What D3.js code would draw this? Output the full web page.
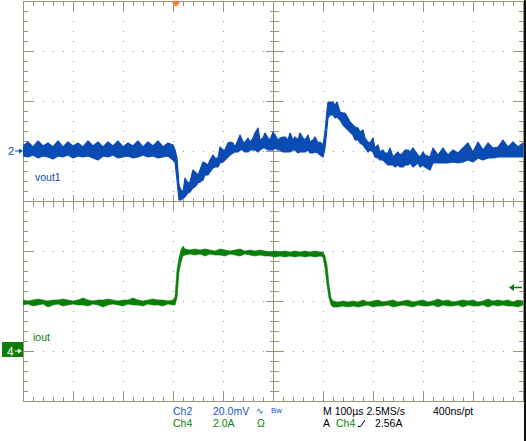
<!DOCTYPE html>
<html><head><meta charset="utf-8">
<script src="https://cdn.jsdelivr.net/npm/d3@7"></script>
<style>html,body{margin:0;padding:0;background:#fff;}svg{display:block;font-family:"Liberation Sans",Arial,sans-serif;}</style>
</head><body><svg id="c" width="526" height="441"></svg>
<script>
// ---- Ch2 (vout1), mV relative to channel marker; time in µs from left edge
const ch2Time = [0,10,20,30,40,50,60,70,80,90,100,110,120,130,140,150,160,170,180,190,200,210,220,230,240,250,260,270,280,290,300,
304,308,312,316,320,324,330,334,340,344,350,354,360,364,370,374,380,384,390,394,400,404,410,414,420,424,430,434,440,444,450,454,460,464,470,474,480,484,490,494,500,504,510,514,520,524,530,534,540,544,550,554,560,564,570,574,580,584,590,594,600,
604,608,610,614,620,624,628,634,640,644,650,654,660,664,670,674,680,684,690,694,700,704,710,714,720,724,730,734,740,744,750,754,760,764,770,774,780,790,794,800,804,814,820,830,840,850,860,870,880,890,900,910,920,930,940,950,960,970,980,990,1000];
const ch2Hi = [2.0,3.6,1.6,4.0,2.0,3.2,1.6,4.0,1.6,3.6,2.0,3.2,1.6,4.0,2.0,3.6,1.6,3.6,2.0,4.0,1.6,3.2,2.0,4.0,1.6,3.6,2.0,4.0,1.6,3.2,2.4,
0.4,-2.8,-13.6,-15.6,-16.4,-10.8,-12.8,-12.4,-7.6,-8.4,-9.6,-7.6,-4.4,-4.8,-5.6,-3.6,-1.6,-2.8,-2.8,1.6,0.4,0.4,3.2,3.6,3.2,1.6,4.4,6.4,3.6,3.6,5.2,3.6,5.2,7.2,9.2,4.4,5.2,7.2,5.2,4.4,7.6,6.4,4.4,5.2,5.6,5.6,4.4,7.2,4.4,5.6,4.4,7.2,5.2,4.4,6.4,3.6,4.4,5.6,3.2,3.6,2.4,
7.6,16.4,19.6,19.6,19.6,18.4,19.6,15.6,15.2,15.2,13.2,11.6,10.4,9.6,9.2,7.6,8.4,5.2,3.6,3.2,5.2,1.2,2.4,-0.4,0.4,-0.8,-0.8,1.2,-2.4,-1.6,-0.4,-1.6,-0.8,0.4,0.4,-0.4,1.2,-1.6,-2.4,-0.4,-1.6,-2.4,1.2,-1.6,1.2,-1.6,0.4,-0.8,1.2,3.2,-0.4,3.6,0.4,3.2,1.2,1.6,4.4,1.6,3.6,1.6,3.2];
const ch2Lo = [-2.0,-2.4,-1.6,-2.8,-2.0,-2.4,-3.2,-2.0,-2.4,-1.6,-2.8,-2.0,-2.4,-2.0,-2.8,-3.6,-2.0,-2.4,-1.6,-2.8,-2.4,-2.0,-2.8,-2.4,-1.6,-2.4,-2.0,-2.8,-2.4,-2.0,-3.6,
-4.4,-11.6,-19.6,-19.6,-18.8,-18.4,-16.8,-16.4,-14.8,-14.4,-12.8,-12.4,-11.6,-9.6,-9.6,-8.4,-6.8,-6.4,-6.4,-4.8,-4.4,-3.6,-2.4,-1.6,-0.8,-0.4,-0.4,0.4,0.4,-0.4,-0.4,0.4,0.4,0.4,-0.4,0.4,1.2,1.2,0.4,0.4,0.4,1.2,0.4,0.4,-0.4,-0.4,-0.4,-0.4,0.4,0.4,-0.8,-0.4,-0.4,-0.4,0.4,-0.8,-0.8,-0.4,-0.8,-1.6,-2.4,
1.2,9.2,13.2,14.4,14.4,13.2,13.6,12.4,10.4,9.6,8.4,7.6,6.4,4.4,4.4,3.2,2.4,1.2,-0.4,0.4,-0.4,-2.4,-2.8,-3.6,-3.6,-4.4,-5.6,-5.6,-5.6,-6.4,-5.6,-6.4,-6.4,-5.6,-5.6,-4.8,-6.4,-4.8,-6.4,-5.6,-6.4,-7.6,-4.8,-4.8,-4.8,-4.8,-4.4,-4.8,-4.4,-3.6,-4.4,-2.8,-3.6,-2.8,-2.8,-2.4,-2.4,-2.4,-2.4,-2.4,-2.4];

// ---- Ch4 (iout), amps; time in µs from left edge
const ch4Time = [0,10,20,30,40,50,60,70,80,90,100,110,120,130,140,150,160,170,180,190,200,210,220,230,240,250,260,270,280,290,300,
304,308,312,316,320,
324,334,344,354,364,374,384,394,404,414,424,434,444,454,464,474,484,494,504,514,524,534,544,554,564,574,584,594,
600,604,608,612,616,620,
630,640,650,660,670,680,690,700,710,720,730,740,750,760,770,780,790,800,810,820,830,840,850,860,870,880,890,900,910,920,930,940,950,960,970,980,990,1000];
const ch4Hi = [2.04,2.0,2.04,2.08,2.04,2.0,2.04,2.04,2.08,2.04,2.0,2.04,2.12,2.04,2.0,2.04,2.04,2.08,2.04,2.0,2.04,2.04,2.12,2.04,2.0,2.04,2.08,2.04,2.04,2.0,2.04,
2.16,3.24,3.72,4.04,4.2,
4.08,4.04,4.08,4.04,4.08,4.04,4.0,4.08,4.04,4.0,4.04,4.08,4.0,4.04,4.0,4.04,4.0,3.96,4.0,3.96,4.0,3.96,4.0,3.96,4.0,3.96,4.0,3.96,
3.96,3.8,3.44,2.64,2.12,2.0,
1.96,2.0,1.96,2.0,1.96,2.04,1.96,2.0,2.04,1.96,2.0,2.04,1.96,2.0,2.04,1.96,2.0,2.04,1.96,2.0,2.08,2.0,2.04,1.96,2.0,2.04,2.0,2.04,1.96,2.0,2.08,2.0,2.04,2.0,2.04,1.96,2.04,2.0];
const ch4Lo = [1.84,1.88,1.8,1.84,1.88,1.76,1.84,1.88,1.8,1.84,1.88,1.84,1.84,1.8,1.88,1.84,1.76,1.84,1.88,1.84,1.8,1.88,1.84,1.84,1.8,1.88,1.84,1.84,1.8,1.88,1.84,
1.84,2.12,3.16,3.56,3.8,
3.84,3.88,3.84,3.88,3.8,3.88,3.84,3.84,3.8,3.88,3.84,3.8,3.88,3.84,3.8,3.84,3.8,3.8,3.76,3.8,3.76,3.8,3.76,3.8,3.76,3.8,3.76,3.8,
3.76,3.32,2.64,2.12,1.84,1.76,
1.76,1.8,1.76,1.8,1.76,1.8,1.84,1.76,1.8,1.8,1.84,1.76,1.8,1.84,1.8,1.76,1.84,1.8,1.8,1.84,1.76,1.84,1.8,1.8,1.84,1.76,1.84,1.8,1.8,1.84,1.76,1.84,1.8,1.84,1.8,1.8,1.76,1.84];

const triggerTime = 306;     // µs
const triggerLevel = 2.56;   // A
const footerRow1 = [["Ch2","#1457c2",173],["20.0mV","#1457c2",213],["M 100µs 2.5MS/s","#000",323],["400ns/pt","#000",433]];
const footerRow2 = [["Ch4","#0b820b",173],["2.0A","#0b820b",213],["Ω","#0b820b",257],["A","#000",323],["Ch4","#0b820b",336],["2.56A","#000",375]];

// ---- scales
const svg = d3.select("#c");
const L = 23, T = 1, W = 500, H = 400;
const x = d3.scaleLinear().domain([0, 1000]).range([L, L + W]);
const y2 = d3.scaleLinear().domain([-100, 60]).range([T + H, T]);   // 20 mV/div
const y4 = d3.scaleLinear().domain([-2, 14]).range([T + H, T]);     // 2 A/div
const gx = d3.scaleLinear().domain([0, 10]).range([L, L + W]);
const gy = d3.scaleLinear().domain([0, 8]).range([T, T + H]);
const GRID = "#9a9378";
const BLUE = "#0a4bb4", GREEN = "#0a7d0a";

svg.append("rect").attr("width", 526).attr("height", 441).attr("fill", "#fff");
const g = svg.append("g").attr("shape-rendering", "crispEdges");

// dotted division lines
const dots = [];
for (let i = 1; i < 10; i++) { if (i === 5) continue;
  for (let k = 1; k < 40; k++) dots.push([Math.round(gx(i)), Math.round(gy(k / 5))]); }
for (let j = 1; j < 8; j++) { if (j === 4) continue;
  for (let k = 1; k < 50; k++) dots.push([Math.round(gx(k / 5)), Math.round(gy(j))]); }
g.selectAll("rect.dot").data(dots).join("rect").attr("class", "dot")
  .attr("x", d => d[0]).attr("y", d => d[1]).attr("width", 1).attr("height", 1).attr("fill", GRID);

function seg(x1, y1, x2, y2) {
  g.append("line").attr("x1", x1).attr("y1", y1).attr("x2", x2).attr("y2", y2)
    .attr("stroke", GRID).attr("stroke-width", 1);
}
// border
g.append("rect").attr("x", L + 0.5).attr("y", T + 0.5).attr("width", W).attr("height", H)
  .attr("fill", "none").attr("stroke", GRID);
// center lines
const cx = Math.round(gx(5)) + 0.5, cy = Math.round(gy(4)) + 0.5;
seg(cx, T, cx, T + H + 1); seg(L, cy, L + W + 1, cy);
// ticks
for (let k = 1; k < 50; k++) {
  const px = Math.round(gx(k / 5)) + 0.5, maj = k % 5 === 0;
  const len = maj ? 11 : 5;
  seg(px, T, px, T + len); seg(px, T + H + 1, px, T + H + 1 - len);
  const c = maj ? 7 : 4; seg(px, cy - c, px, cy + c + 1);
}
for (let k = 1; k < 40; k++) {
  const py = Math.round(gy(k / 5)) + 0.5, maj = k % 5 === 0;
  const len = maj ? 11 : 5;
  seg(L, py, L + len, py); seg(L + W + 1, py, L + W + 1 - len, py);
  const c = maj ? 8 : 4; seg(cx - c, py, cx + c + 1, py);
}

// traces
svg.append("clipPath").attr("id", "pl").append("rect")
  .attr("x", L).attr("y", T).attr("width", W + 1).attr("height", H + 1);
function trace(times, hi, lo, ys, color, sw) {
  const d = times.map((t, i) => ({ t, hi: hi[i], lo: lo[i] }));
  const area = d3.area().x(e => x(e.t)).y0(e => ys(e.lo)).y1(e => ys(e.hi));
  svg.append("path").datum(d).attr("clip-path", "url(#pl)").attr("d", area)
    .attr("fill", color).attr("stroke", color).attr("stroke-width", sw).attr("stroke-linejoin", "round");
}
trace(ch2Time, ch2Hi, ch2Lo, y2, BLUE, 1.2);
trace(ch4Time, ch4Hi, ch4Lo, y4, GREEN, 0.6);

// trigger position marker (top)
const tx = x(triggerTime);
svg.append("path").attr("d", `M${tx - 5},${T} L${tx + 5},${T} L${tx},${T + 6} Z`).attr("fill", "#ff7a2a");
// trigger level marker (right)
const ty = Math.round(y4(triggerLevel)) + 0.5;
svg.append("line").attr("x1", 511).attr("x2", 522).attr("y1", ty).attr("y2", ty).attr("stroke", GREEN).attr("stroke-width", 1.5);
svg.append("path").attr("d", `M509,${ty} L514,${ty - 3.5} L514,${ty + 3.5} Z`).attr("fill", GREEN);

// channel markers (left)
const m2 = y2(0);
svg.append("text").attr("x", 8).attr("y", m2 + 4).attr("font-size", 11).attr("fill", BLUE).text("2");
svg.append("line").attr("x1", 15).attr("x2", 21).attr("y1", m2).attr("y2", m2).attr("stroke", BLUE).attr("stroke-width", 1);
svg.append("path").attr("d", `M23,${m2} L19,${m2 - 2.5} L19,${m2 + 2.5} Z`).attr("fill", BLUE);
const m4 = y4(0);
svg.append("rect").attr("x", 2).attr("y", m4 - 9).attr("width", 21).attr("height", 15).attr("fill", GREEN);
svg.append("text").attr("x", 7).attr("y", m4 + 4.5).attr("font-size", 12).attr("fill", "#fff").text("4");
svg.append("line").attr("x1", 15).attr("x2", 20).attr("y1", m4).attr("y2", m4).attr("stroke", "#fff").attr("stroke-width", 1);
svg.append("path").attr("d", `M22,${m4} L18,${m4 - 2.5} L18,${m4 + 2.5} Z`).attr("fill", "#fff");

// trace labels
svg.append("text").attr("x", 35).attr("y", 181).attr("font-size", 10.5).attr("fill", BLUE).text("vout1");
svg.append("text").attr("x", 33).attr("y", 341).attr("font-size", 10.5).attr("fill", GREEN).text("iout");

// footer
footerRow1.forEach(([s, c, px]) => svg.append("text").attr("x", px).attr("y", 415).attr("font-size", 10.5).attr("fill", c).text(s));
footerRow2.forEach(([s, c, px]) => svg.append("text").attr("x", px).attr("y", 427).attr("font-size", 10.5).attr("fill", c).text(s));
svg.append("text").attr("x", 256).attr("y", 414).attr("font-size", 9).attr("fill", "#1457c2").text("∿");
svg.append("text").attr("x", 271).attr("y", 413).attr("font-size", 8).attr("fill", "#1457c2").text("Bw");
svg.append("path").attr("d", "M358,426.5 L360.5,426.5 L365,420").attr("fill", "none").attr("stroke", "#000").attr("stroke-width", 1);

// right dark edge
svg.append("rect").attr("x", 524).attr("y", 0).attr("width", 2).attr("height", 441).attr("fill", "#111");
</script></body></html>
